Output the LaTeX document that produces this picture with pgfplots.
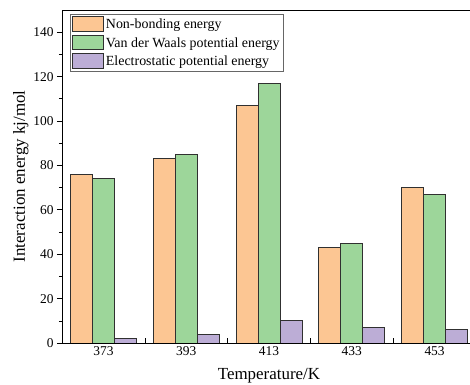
\documentclass[border=0pt]{standalone}
\usepackage{fontspec}
\setmainfont{Liberation Serif}
\usepackage{pgfplots}
\pgfplotsset{compat=1.18}
\definecolor{cOr}{HTML}{FCC693}
\definecolor{cGr}{HTML}{9DD69A}
\definecolor{cPu}{HTML}{BCADD6}
\definecolor{cEdge}{HTML}{303030}
\begin{document}
\begin{tikzpicture}[x=1bp,y=1bp]
\begin{axis}[
  at={(0,0)}, anchor=south west,
  scale only axis, width=414bp, height=333bp,
  xmin=-0.5, xmax=4.5, ymin=0, ymax=150,
  ybar=0pt, bar width=22bp,
  xtick={0,1,2,3,4}, xticklabels={373,393,413,433,453},
  extra x ticks={0.5,1.5,2.5,3.5}, extra x tick labels={},
  ytick={0,20,40,60,80,100,120,140},
  minor ytick={10,30,50,70,90,110,130},
  x tick style={black, line width=0.6pt},
  y tick style={black, line width=0.6pt},
  xtick pos=bottom, ytick pos=left,
  xtick align=inside, ytick align=outside,
  major tick length=5bp, minor tick length=3bp,
  tick label style={font=\fontsize{13.5}{15}\selectfont},
  /pgf/number format/assume math mode=true,
  xlabel={Temperature/K}, ylabel={Interaction energy kj/mol},
  label style={font=\fontsize{17}{19}\selectfont},
  xlabel style={yshift=-6bp},
  ylabel style={yshift=-2bp},
  axis line style={black, line width=0.8pt},
  legend style={at={(axis description cs:0.019,0.988)}, anchor=north west,
    draw=gray!80!black, line width=0.6pt, font=\fontsize{14}{16}\selectfont,
    row sep=2.5bp, inner sep=2bp},
  legend cell align=left,
  legend image code/.code={\draw[#1, line width=0.8pt] (0bp,-6.5bp) rectangle (31bp,8bp);},
]
\addplot[fill=cOr, draw=cEdge, line width=0.8pt] coordinates {(0,76) (1,83) (2,107) (3,43) (4,70)};
\addplot[fill=cGr, draw=cEdge, line width=0.8pt] coordinates {(0,74) (1,85) (2,117) (3,45) (4,67)};
\addplot[fill=cPu, draw=cEdge, line width=0.8pt] coordinates {(0,2) (1,4) (2,10) (3,7) (4,6)};
\legend{Non-bonding energy, Van der Waals potential energy, Electrostatic potential energy}
\end{axis}
\pgfresetboundingbox
\path[use as bounding box] (-62bp,-42bp) rectangle (408bp,343bp);
\end{tikzpicture}
\end{document}
